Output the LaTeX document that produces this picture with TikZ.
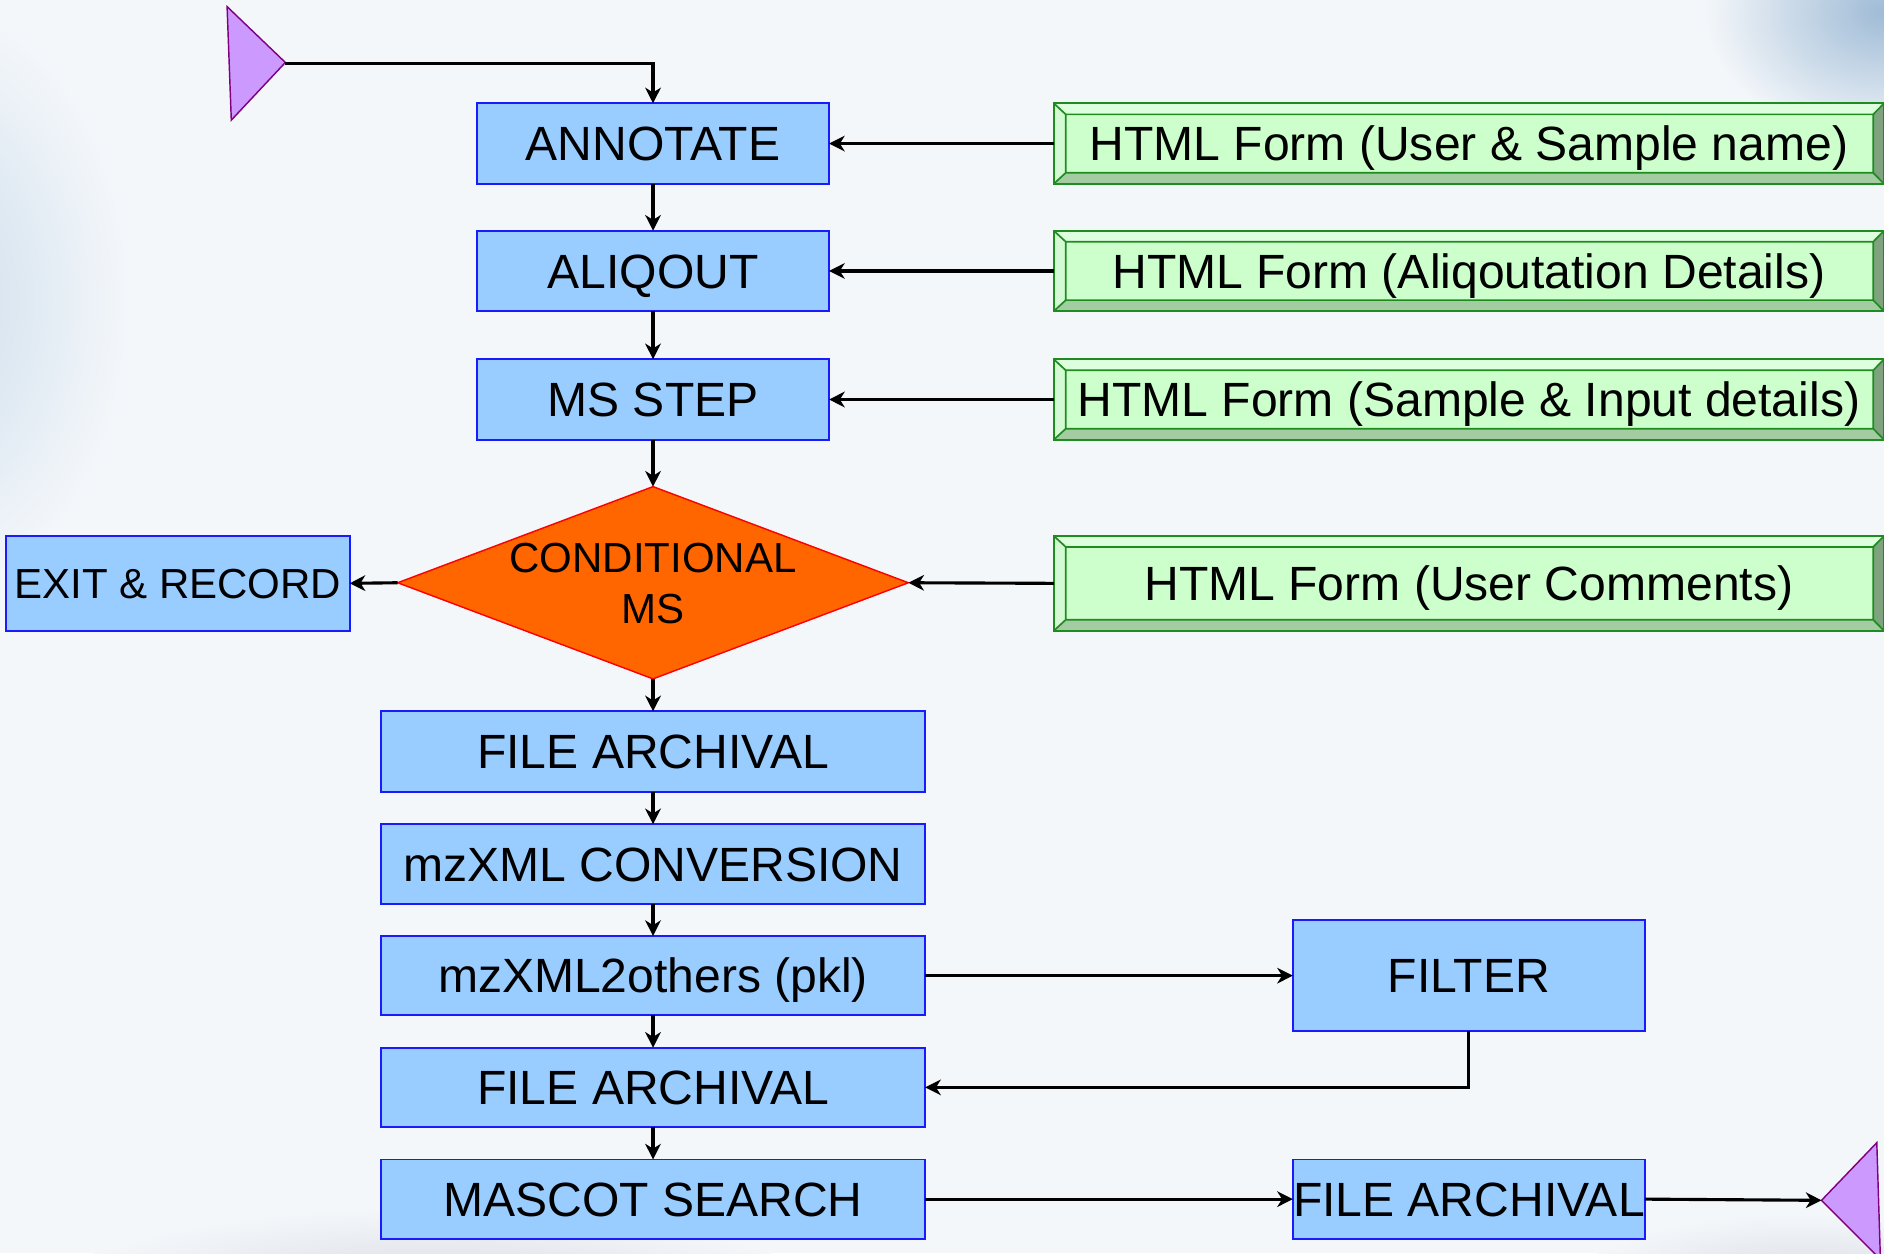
\documentclass[tikz,border=0pt]{standalone}
\usepackage{fontspec}
\setmainfont{Liberation Sans}
\usetikzlibrary{shapes.geometric,arrows.meta}
\definecolor{boxfill}{HTML}{99CCFF}
\definecolor{boxedge}{HTML}{1A1AFF}
\definecolor{condfill}{HTML}{FF6600}
\definecolor{condedge}{HTML}{FF0000}
\definecolor{trifill}{HTML}{CC99FF}
\definecolor{triedge}{HTML}{800080}
\definecolor{formface}{HTML}{CCFFCC}
\definecolor{formedge}{HTML}{1E8C1E}
\definecolor{bevtop}{HTML}{DDFFDD}
\definecolor{bevleft}{HTML}{D4FAD4}
\definecolor{bevbottom}{HTML}{A3CCA3}
\definecolor{bevright}{HTML}{7FA37F}
\definecolor{bg}{HTML}{F4F7FA}
\definecolor{bgblue}{HTML}{CCDDEC}
\definecolor{bgdeep}{HTML}{9FBBD6}
\definecolor{bggray}{HTML}{D3D8DE}
\tikzset{
  bigfont/.style={font=\fontsize{20}{24}\selectfont, text height=14.3pt, text depth=0pt},
  midfont/.style={font=\fontsize{17.5}{21.2}\selectfont},
  procbox/.style={draw=boxedge, fill=boxfill, line width=0.8pt, inner sep=0pt,
    outer sep=0pt, text=black, bigfont},
  decision/.style={diamond, draw=condedge, fill=condfill, line width=0.6pt,
    inner sep=0pt, outer sep=0pt},
  terminal/.style={draw=triedge, fill=trifill, line width=0.6pt},
  formbox/.style={draw=formedge, fill=formface, line width=0.7pt, inner sep=0pt,
    outer sep=0pt, minimum width=345.5pt, text=black, bigfont,
    path picture={
      \path (path picture bounding box.north west) coordinate (pnw)
            (path picture bounding box.north east) coordinate (pne)
            (path picture bounding box.south west) coordinate (psw)
            (path picture bounding box.south east) coordinate (pse);
      \path ([xshift=5pt,yshift=-4.6pt]pnw) coordinate (qnw)
            ([xshift=-4.5pt,yshift=-4.6pt]pne) coordinate (qne)
            ([xshift=5pt,yshift=4.6pt]psw) coordinate (qsw)
            ([xshift=-4.5pt,yshift=4.6pt]pse) coordinate (qse);
      \fill[bevtop] (pnw) -- (pne) -- (qne) -- (qnw) -- cycle;
      \fill[bevbottom] (psw) -- (pse) -- (qse) -- (qsw) -- cycle;
      \fill[bevleft] (pnw) -- (qnw) -- (qsw) -- (psw) -- cycle;
      \fill[bevright] (pne) -- (qne) -- (qse) -- (pse) -- cycle;
      \draw[formedge, line width=0.7pt] (qnw) rectangle (qse)
            (pnw) -- (qnw) (pne) -- (qne) (psw) -- (qsw) (pse) -- (qse);
    }},
  flow/.style={-{Stealth[length=6.5pt,width=6.5pt,inset=2pt]}, line width=1.3pt, black},
}
\begin{document}
\begin{tikzpicture}[x=0.5pt,y=-0.5pt]
\useasboundingbox (0,0) rectangle (1568,1043);
% background
\fill[bg] (0,0) rectangle (1568,1043);
\shade[inner color=bgblue, outer color=bg] (-60,250) ellipse (170 and 250);
\shade[inner color=bgdeep, outer color=bg] (1568,10) ellipse (150 and 110);
\shade[inner color=bggray, outer color=bg] (360,1085) ellipse (330 and 80);
\shade[inner color=bggray, outer color=bg] (1500,1080) ellipse (200 and 70);

% terminals
\filldraw[terminal] (189,5.5) -- (237.5,52) -- (192.5,100) -- cycle;
\coordinate (starttip) at (237.5,53);
\filldraw[terminal] (1516,999) -- (1562,951) -- (1565,1048) -- cycle;
\coordinate (endtip) at (1516,999);

% main column
\node[procbox, minimum width=146.5pt, minimum height=33.5pt] (annot) at (543.5,119.5) {ANNOTATE};
\node[procbox, minimum width=146.5pt, minimum height=33.5pt] (aliq) at (543.5,225.5) {ALIQOUT};
\node[procbox, minimum width=146.5pt, minimum height=33.5pt] (msstep) at (543.5,332.5) {MS STEP};
\node[decision, minimum width=212.5pt, minimum height=80pt] (cond) at (543.5,485) {};
\node[midfont, align=center, inner sep=0pt] (condtext) at (543.5,486) {CONDITIONAL\\MS};
\node[procbox, font=\fontsize{17.5}{21.2}\selectfont, text height=12.5pt, minimum width=143pt, minimum height=39.5pt] (exit) at (148,485.5) {EXIT \& RECORD};
\node[procbox, minimum width=226.5pt, minimum height=33.5pt] (fa1) at (543.5,625.5) {FILE ARCHIVAL};
\node[procbox, minimum width=226.5pt, minimum height=33pt] (conv) at (543.5,719) {mzXML CONVERSION};
\node[procbox, minimum width=226.5pt, minimum height=33pt] (others) at (543.5,812) {mzXML2others (pkl)};
\node[procbox, minimum width=226.5pt, minimum height=33pt] (fa2) at (543.5,905) {FILE ARCHIVAL};
\node[procbox, minimum width=226.5pt, minimum height=33pt] (mascot) at (543.5,998) {MASCOT SEARCH};
\node[procbox, minimum width=146.5pt, minimum height=46pt] (filter) at (1222.5,812) {FILTER};
\node[procbox, minimum width=146.5pt, minimum height=33pt] (fa3) at (1222.5,998) {FILE ARCHIVAL};

% html forms
\node[formbox, minimum height=33.5pt] (f1) at (1222.5,119.5) {HTML Form (User \& Sample name)};
\node[formbox, minimum height=33.5pt] (f2) at (1222.5,225.5) {HTML Form (Aliqoutation Details)};
\node[formbox, minimum height=33.5pt] (f3) at (1222.5,332.5) {HTML Form (Sample \& Input details)};
\node[formbox, minimum height=39.5pt] (f4) at (1222.5,485.5) {HTML Form (User Comments)};

% connectors
\draw[flow] (starttip) -| (annot.north);
\draw[flow] (annot.south) -- (aliq.north);
\draw[flow] (aliq.south) -- (msstep.north);
\draw[flow] (msstep.south) -- (cond.north);
\draw[flow] (f1.west) -- (annot.east);
\draw[flow] (f2.west) -- (aliq.east);
\draw[flow] (f3.west) -- (msstep.east);
\draw[flow] (f4.west) -- (cond.east);
\draw[flow] (cond.west) -- (exit.east);
\draw[flow] (cond.south) -- (fa1.north);
\draw[flow] (fa1.south) -- (conv.north);
\draw[flow] (conv.south) -- (others.north);
\draw[flow] (others.south) -- (fa2.north);
\draw[flow] (fa2.south) -- (mascot.north);
\draw[flow] (others.east) -- (filter.west);
\draw[flow] (filter.south) |- (fa2.east);
\draw[flow] (mascot.east) -- (fa3.west);
\draw[flow] (fa3.east) -- (endtip);
\end{tikzpicture}
\end{document}
